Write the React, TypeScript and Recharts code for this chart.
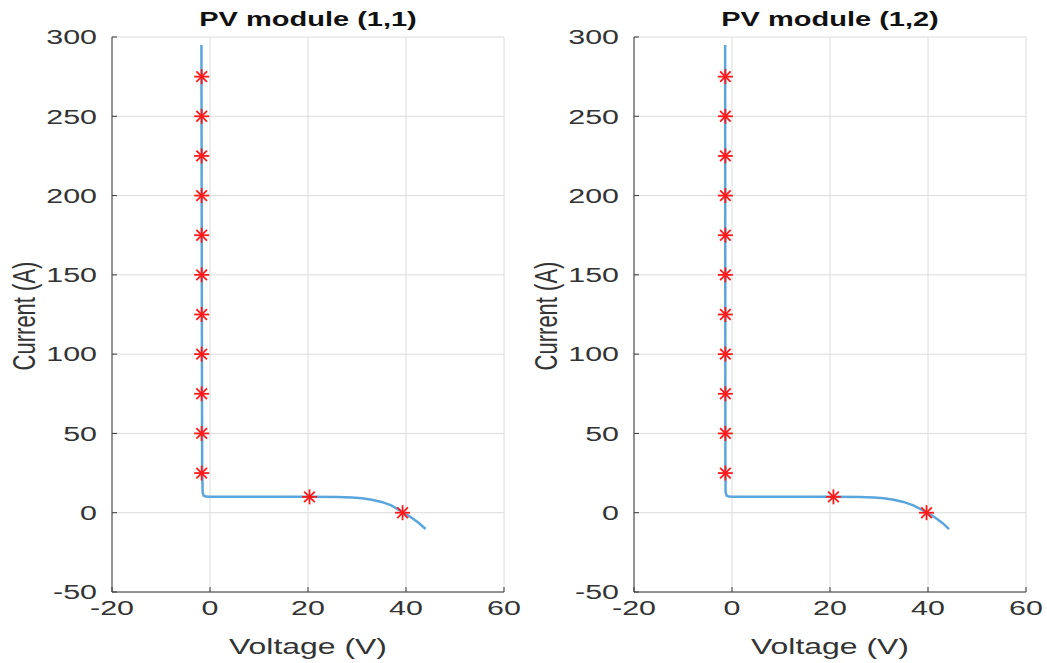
import React from 'react';
import {
  ScatterChart,
  Scatter,
  XAxis,
  YAxis,
  CartesianGrid,
} from 'recharts';

// I-V curve readings, module (1,1)
const curveV11 = [-1.75, -1.7, -1.65, -1.6, -1.5, -1.3, -0.9, 0, 10, 20, 26, 29, 31, 33, 35, 37, 39.3, 41, 42.5, 44];
const curveI11 = [295, 200, 100, 30, 13, 10.8, 10.2, 10, 10, 10, 9.9, 9.6, 9.1, 8.2, 6.8, 4.6, 0.4, -2.9, -6.2, -10.3];
const markV11 = [-1.7, -1.7, -1.7, -1.7, -1.7, -1.7, -1.7, -1.7, -1.7, -1.7, -1.7, 20.3, 39.3];
const markI11 = [25, 50, 75, 100, 125, 150, 175, 200, 225, 250, 275, 10, 0];

// I-V curve readings, module (1,2)
const curveV12 = [-1.4, -1.38, -1.36, -1.35, -1.3, -1.1, -0.7, 0, 10, 20, 26, 29, 31, 33, 35, 37, 39.7, 41.5, 43, 44.3];
const curveI12 = [295, 200, 100, 30, 13, 10.8, 10.2, 10, 10, 10, 9.9, 9.6, 9.1, 8.2, 6.8, 4.6, 0.4, -3.2, -6.6, -10.3];
const markV12 = [-1.35, -1.35, -1.35, -1.35, -1.35, -1.35, -1.35, -1.35, -1.35, -1.35, -1.35, 20.7, 39.7];
const markI12 = [25, 50, 75, 100, 125, 150, 175, 200, 225, 250, 275, 10, 0];

const xTicks = [-20, 0, 20, 40, 60];
const yTicks = [-50, 0, 50, 100, 150, 200, 250, 300];

const FONT = '"Liberation Sans", Arial, Helvetica, sans-serif';
const AXIS = '#3a3a3a';
const STRETCH = 1.45;

const toPoints = (v: number[], i: number[]) => v.map((x, k) => ({ v: x, i: i[k] }));

const XTick = (props: any) => {
  const { x, y, payload } = props;
  return (
    <text
      transform={`translate(${x},${y}) scale(${STRETCH},1)`}
      textAnchor="middle"
      dominantBaseline="central"
      fontFamily={FONT}
      fontSize={21}
      fill="#333"
    >
      {payload.value}
    </text>
  );
};

const YTick = (props: any) => {
  const { x, y, payload } = props;
  return (
    <text
      transform={`translate(${x},${y}) scale(${STRETCH},1)`}
      textAnchor="end"
      dominantBaseline="central"
      fontFamily={FONT}
      fontSize={21}
      fill="#333"
    >
      {payload.value}
    </text>
  );
};

const NoTick = () => <g />;

const Asterisk = (props: any) => {
  const { cx, cy } = props;
  const r = 7.5;
  const d = r * 0.707;
  return (
    <g stroke="#ff1a1a" strokeWidth={1.8}>
      <line x1={cx - r} y1={cy} x2={cx + r} y2={cy} />
      <line x1={cx} y1={cy - r} x2={cx} y2={cy + r} />
      <line x1={cx - d} y1={cy - d} x2={cx + d} y2={cy + d} />
      <line x1={cx - d} y1={cy + d} x2={cx + d} y2={cy - d} />
    </g>
  );
};

const Hidden = () => <g />;

interface PanelProps {
  title: string;
  left: number;
  curve: { v: number; i: number }[];
  marks: { v: number; i: number }[];
}

const Panel: React.FC<PanelProps> = ({ title, left, curve, marks }) => {
  const W = 523;
  const H = 663;
  const plotLeft = 112;
  const plotRight = 504;
  const cx = (plotLeft + plotRight) / 2;
  const textStyle: React.CSSProperties = {
    position: 'absolute',
    fontFamily: FONT,
    whiteSpace: 'nowrap',
    lineHeight: 1,
  };
  return (
    <div style={{ position: 'absolute', left, top: 0, width: W, height: H }}>
      <ScatterChart width={W} height={H} margin={{ top: 37, right: 19, bottom: 0, left: 42 }}>
        <CartesianGrid stroke="#dcdcdc" strokeWidth={1} />
        <XAxis
          type="number"
          dataKey="v"
          domain={[-20, 60]}
          ticks={xTicks}
          allowDataOverflow
          height={71}
          tickSize={-5}
          tickMargin={21}
          axisLine={{ stroke: AXIS }}
          tickLine={{ stroke: AXIS }}
          tick={<XTick />}
        />
        <XAxis
          xAxisId="top"
          orientation="top"
          type="number"
          dataKey="v"
          domain={[-20, 60]}
          ticks={xTicks}
          height={0}
          tickSize={-5}
          axisLine={{ stroke: AXIS }}
          tickLine={{ stroke: AXIS }}
          tick={<NoTick />}
        />
        <YAxis
          type="number"
          dataKey="i"
          domain={[-50, 300]}
          ticks={yTicks}
          allowDataOverflow
          width={70}
          tickSize={-5}
          tickMargin={20}
          axisLine={{ stroke: AXIS }}
          tickLine={{ stroke: AXIS }}
          tick={<YTick />}
        />
        <YAxis
          yAxisId="right"
          orientation="right"
          type="number"
          dataKey="i"
          domain={[-50, 300]}
          ticks={yTicks}
          width={0}
          tickSize={-5}
          axisLine={{ stroke: AXIS }}
          tickLine={{ stroke: AXIS }}
          tick={<NoTick />}
        />
        <Scatter
          data={curve}
          line={{ stroke: '#5aa6dc', strokeWidth: 2.5 }}
          lineType="joint"
          shape={<Hidden />}
          isAnimationActive={false}
        />
        <Scatter data={marks} shape={<Asterisk />} isAnimationActive={false} />
      </ScatterChart>
      <div
        style={{
          ...textStyle,
          left: cx,
          top: 9,
          fontSize: 20,
          fontWeight: 'bold',
          color: '#111',
          transform: `translateX(-50%) scaleX(${STRETCH})`,
        }}
      >
        {title}
      </div>
      <div
        style={{
          ...textStyle,
          left: cx,
          top: 636,
          fontSize: 22,
          color: '#333',
          transform: `translateX(-50%) scaleX(${STRETCH})`,
        }}
      >
        Voltage (V)
      </div>
      <div
        style={{
          ...textStyle,
          left: 25,
          top: 316,
          fontSize: 22,
          color: '#333',
          transform: `translate(-50%, -50%) scaleX(${STRETCH}) rotate(-90deg)`,
        }}
      >
        Current (A)
      </div>
    </div>
  );
};

export default function App() {
  return (
    <div style={{ position: 'absolute', left: 0, top: 0, width: 1047, height: 663, background: '#fff' }}>
      <Panel title="PV module (1,1)" left={0} curve={toPoints(curveV11, curveI11)} marks={toPoints(markV11, markI11)} />
      <Panel title="PV module (1,2)" left={522} curve={toPoints(curveV12, curveI12)} marks={toPoints(markV12, markI12)} />
    </div>
  );
}
